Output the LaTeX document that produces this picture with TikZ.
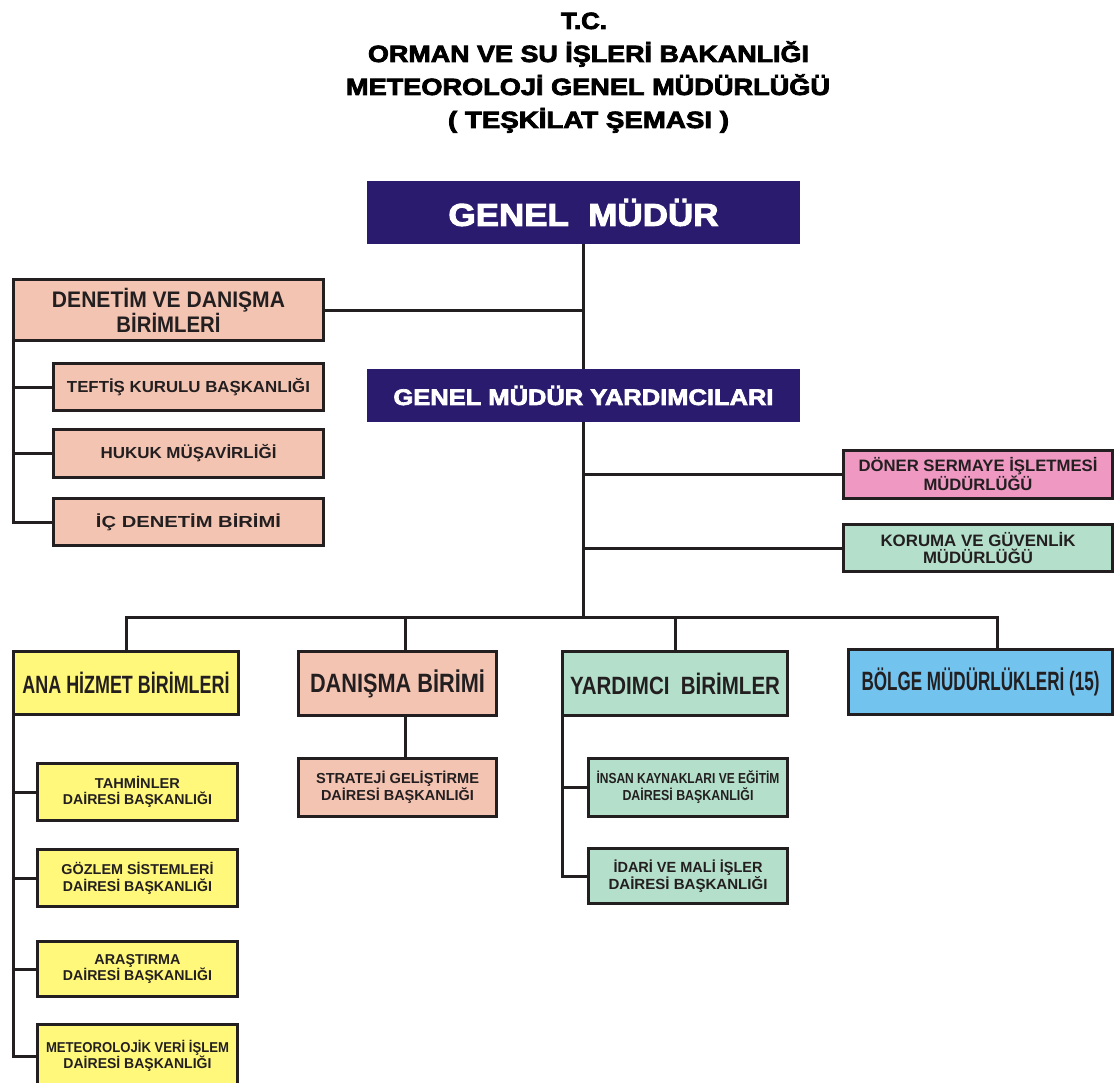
\documentclass[tikz,border=0pt]{standalone}
\usepackage{fontspec}
\setmainfont{Liberation Sans}
\newfontfamily\heavy[BoldFeatures={FakeBold=3}]{Liberation Sans}
\usepackage{graphicx}
\newcommand{\sx}[2]{\resizebox{#1pt}{\height}{#2}}
\newcommand{\fs}[2]{\fontsize{#1}{#2}\selectfont\bfseries}
\newcommand{\fh}[2]{\fontsize{#1}{#2}\selectfont\heavy\bfseries}
\definecolor{lc}{HTML}{231F20}
\definecolor{navyc}{HTML}{2B1B6E}
\definecolor{salmon}{HTML}{F4C4B2}
\definecolor{pinkc}{HTML}{EF98C2}
\definecolor{greenc}{HTML}{B4DFCB}
\definecolor{yellowc}{HTML}{FFF87A}
\definecolor{bluec}{HTML}{73C3EF}
\begin{document}
\begin{tikzpicture}[x=1pt,y=-1pt,
  box/.style={draw=lc, line width=3pt, inner sep=0pt, outer sep=0pt, align=center, text=lc},
  navybox/.style={fill=navyc, draw=none, inner sep=0pt, outer sep=0pt, align=center, text=white},
  conn/.style={draw=lc, line width=3pt},
  ttl/.style={anchor=base, inner sep=0pt, font=\fh{23.5}{26}, text=black}]
\useasboundingbox[fill=white] (0,0) rectangle (1116,1083);

% title
\node[ttl] (t1) at (584,29) {\sx{46}{T.C.}};
\node[ttl] (t2) at (588.5,62) {\sx{441}{ORMAN VE SU İŞLERİ BAKANLIĞI}};
\node[ttl] (t3) at (588,95) {\sx{484}{METEOROLOJİ GENEL MÜDÜRLÜĞÜ}};
\node[ttl] (t4) at (588.5,128) {\sx{281}{( TEŞKİLAT ŞEMASI )}};

% top
\node[navybox, minimum width=433pt, minimum height=63pt, font=\fh{31.5}{34}] (gm) at (583.5,212.5) {\sx{270}{GENEL\ \ MÜDÜR}};
\node[navybox, minimum width=433pt, minimum height=53pt, font=\fh{22.5}{26}] (gmy) at (583.5,395.5) {\sx{380}{GENEL MÜDÜR YARDIMCILARI}};

% left audit group
\node[box, fill=salmon, minimum width=310pt, minimum height=61pt, font=\fs{22.5}{22}] (den) at (168.5,310) {\sx{233}{DENETİM VE DANIŞMA}\\\sx{104}{BİRİMLERİ}};
\node[box, fill=salmon, minimum width=270pt, minimum height=47pt, font=\fs{16}{18}] (tef) at (188.5,387) {\sx{243}{TEFTİŞ KURULU BAŞKANLIĞI}};
\node[box, fill=salmon, minimum width=270pt, minimum height=48pt, font=\fs{16}{18}] (huk) at (188.5,453.5) {\sx{176}{HUKUK MÜŞAVİRLİĞİ}};
\node[box, fill=salmon, minimum width=270pt, minimum height=47pt, font=\fs{16}{18}] (ic) at (188.5,522) {\sx{185}{İÇ DENETİM BİRİMİ}};

% right side
\node[box, fill=pinkc, minimum width=269pt, minimum height=48pt, font=\fs{16.5}{17}] (don) at (978,474.5) {\sx{239}{DÖNER SERMAYE İŞLETMESİ}\\\sx{109}{MÜDÜRLÜĞÜ}};
\node[box, fill=greenc, minimum width=269pt, minimum height=47pt, font=\fs{16.5}{17}] (kor) at (978,548) {\sx{195}{KORUMA VE GÜVENLİK}\\\sx{110}{MÜDÜRLÜĞÜ}};

% second level
\node[box, fill=yellowc, minimum width=225pt, minimum height=63pt, font=\fs{25}{28}] (ana) at (126,683) {\sx{207}{ANA HİZMET BİRİMLERİ}};
\node[box, fill=salmon, minimum width=198pt, minimum height=64pt, font=\fs{26.5}{28}] (dan) at (397.5,683.5) {\sx{175}{DANIŞMA BİRİMİ}};
\node[box, fill=greenc, minimum width=225pt, minimum height=64pt, font=\fs{25}{28}] (yar) at (675,683.5) {\sx{210}{YARDIMCI\ \ BİRİMLER}};
\node[box, fill=bluec, minimum width=264pt, minimum height=65pt, font=\fs{26.5}{28}] (bol) at (980.5,682) {\sx{238}{BÖLGE MÜDÜRLÜKLERİ (15)}};

% third level
\node[box, fill=salmon, minimum width=198pt, minimum height=58pt, font=\fs{14.5}{17}] (str) at (397.5,787.5) {\sx{163}{STRATEJİ GELİŞTİRME}\\\sx{153}{DAİRESİ BAŞKANLIĞI}};
\node[box, fill=greenc, minimum width=199pt, minimum height=58pt, font=\fs{14.5}{17}] (ins) at (688,787.5) {\sx{183}{İNSAN KAYNAKLARI VE EĞİTİM}\\\sx{131}{DAİRESİ BAŞKANLIĞI}};
\node[box, fill=greenc, minimum width=199pt, minimum height=55pt, font=\fs{14.7}{17}] (ida) at (688,876) {\sx{149}{İDARİ VE MALİ İŞLER}\\\sx{159}{DAİRESİ BAŞKANLIĞI}};
\node[box, fill=yellowc, minimum width=200pt, minimum height=57pt, font=\fs{14.3}{16}] (tah) at (137.5,792) {\sx{85}{TAHMİNLER}\\\sx{149}{DAİRESİ BAŞKANLIĞI}};
\node[box, fill=yellowc, minimum width=200pt, minimum height=57pt, font=\fs{14.3}{17}] (goz) at (137.5,878) {\sx{152}{GÖZLEM SİSTEMLERİ}\\\sx{149}{DAİRESİ BAŞKANLIĞI}};
\node[box, fill=yellowc, minimum width=200pt, minimum height=55pt, font=\fs{14.3}{16}] (ara) at (137.5,969) {\sx{86}{ARAŞTIRMA}\\\sx{149}{DAİRESİ BAŞKANLIĞI}};
\node[box, fill=yellowc, minimum width=200pt, minimum height=63pt, font=\fs{14.3}{16}] (met) at (137.5,1056) {\sx{183}{METEOROLOJİK VERİ İŞLEM}\\\sx{148}{DAİRESİ BAŞKANLIĞI}};

% coordinates
\coordinate (bar) at (583.5,617);
\coordinate (barL) at (126,617);
\coordinate (barR) at (997,617);
\coordinate (dropD) at (405,617);

% connectors
\draw[conn] (gm.south) -- (gmy.north);
\draw[conn] (den.east) -- (den.east -| gm.south);
\draw[conn] (gmy.south) -- (bar);
\draw[conn] (don.west -| gmy.south) -- (don.west);
\draw[conn] (kor.west -| gmy.south) -- (kor.west);
\draw[conn] (ana.north) -- (barL) -- (barR) -- (barR |- bol.north);
\draw[conn] (dropD) -- (dropD |- dan.north);
\draw[conn] (yar.north |- bar) -- (yar.north);
\draw[conn] (dropD |- dan.south) -- (dropD |- str.north);

\draw[conn] (den.south west) |- (ic.west);
\draw[conn] (den.south west |- tef.west) -- (tef.west);
\draw[conn] (den.south west |- huk.west) -- (huk.west);

\draw[conn] (ana.south west) |- (met.west);
\draw[conn] (ana.south west |- tah.west) -- (tah.west);
\draw[conn] (ana.south west |- goz.west) -- (goz.west);
\draw[conn] (ana.south west |- ara.west) -- (ara.west);

\draw[conn] (yar.south west) |- (ida.west);
\draw[conn] (yar.south west |- ins.west) -- (ins.west);
\end{tikzpicture}
\end{document}
